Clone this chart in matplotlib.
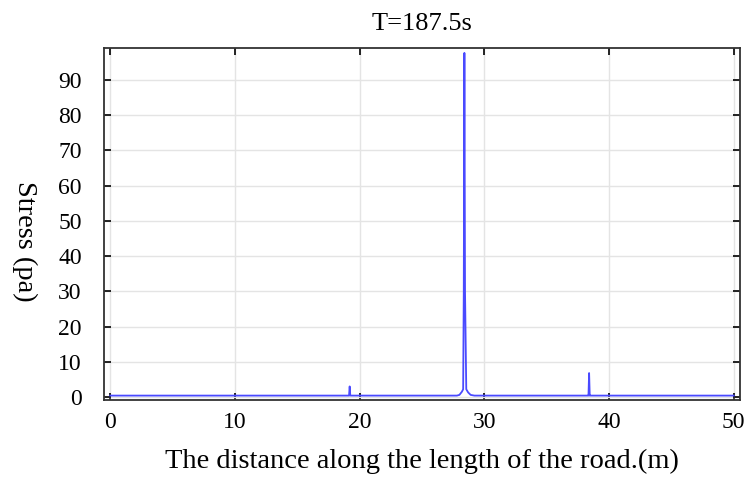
import matplotlib
matplotlib.use("Agg")
import matplotlib.pyplot as plt

x_pos = [0, 19.05, 19.15, 19.2, 19.25, 19.35, 27.8, 28.0, 28.2, 28.3, 28.35, 28.4, 28.45, 28.55, 28.7, 28.9, 29.2, 38.25, 38.35, 38.4, 38.45, 38.55, 50]
stress = [0.4, 0.4, 0.4, 3.0, 0.4, 0.4, 0.4, 0.6, 1.5, 2.2, 30.0, 97.7, 30.0, 2.2, 1.3, 0.6, 0.4, 0.4, 0.4, 6.8, 0.4, 0.4, 0.4]
x_ticks = [0, 10, 20, 30, 40, 50]
y_ticks = [0, 10, 20, 30, 40, 50, 60, 70, 80, 90]

plt.rcParams['font.family'] = ['Liberation Serif', 'DejaVu Serif']
fig = plt.figure(figsize=(7.46, 4.78), dpi=100)
ax = fig.add_axes([104/746, 1 - 400/478, (740-104)/746, (400-48)/478])
ax.plot(x_pos, stress, color='#4a4aff', lw=1.3)
ax.set_xlim(-0.5, 50.5)
ax.set_ylim(-0.85, 99.1)
ax.set_xticks(x_ticks)
ax.set_yticks(y_ticks)
ax.grid(True, color='#e4e4e4', lw=1)
ax.tick_params(direction='in', top=True, right=True, labelsize=17, length=5, width=1.2)
ax.tick_params(axis='y', pad=16)
ax.tick_params(axis='x', pad=9)
for s in ax.spines.values():
    s.set_linewidth(1.3)
    s.set_color('#333333')
ax.set_title('T=187.5s', fontsize=19, pad=13)
ax.set_xlabel('The distance along the length of the road.(m)', fontsize=20.5, labelpad=11)
ax.set_ylabel('Stress (pa)', fontsize=20.5, rotation=270, va='center', ha='center')
ax.yaxis.set_label_coords((25 - 104) / 636, (400 - 241) / 352)
fig.savefig('out.png', dpi=100)
